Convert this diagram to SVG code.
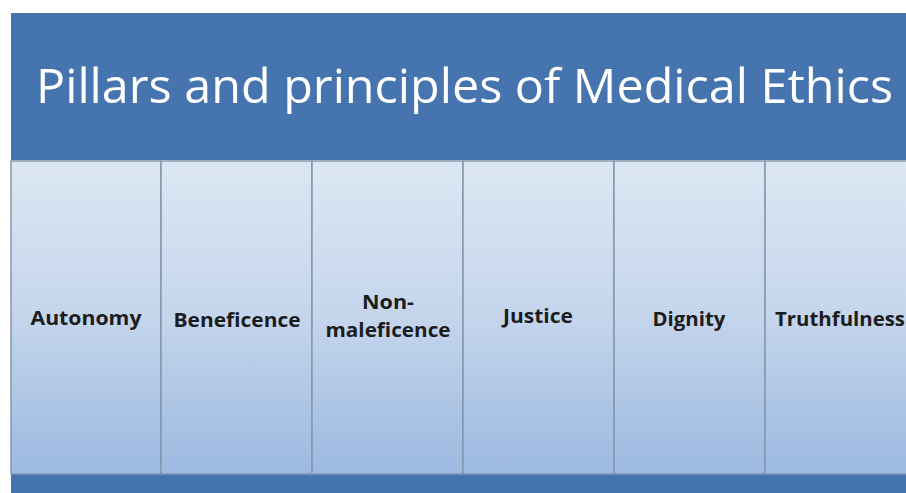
<svg xmlns="http://www.w3.org/2000/svg" width="906" height="493" viewBox="0 0 906 493">
  <defs>
    <linearGradient id="pg" x1="0" y1="0" x2="0" y2="1">
      <stop offset="0" stop-color="#dde7f3"/>
      <stop offset="0.5" stop-color="#c4d5ec"/>
      <stop offset="1" stop-color="#9cb9e0"/>
    </linearGradient>
    <style>
      .pillar { fill: url(#pg); stroke: #8596ad; stroke-width: 1.5; }
      .lbl { font-family: "Open Sans", "Liberation Sans", sans-serif; font-weight: bold; font-size: 19px; fill: #1c1c1c; text-anchor: middle; }
      .title { font-family: "Open Sans", "Liberation Sans", sans-serif; font-size: 48px; fill: #ffffff; }
    </style>
  </defs>
  <rect x="0" y="0" width="906" height="493" fill="#ffffff"/>
  <g id="banner">
    <rect x="11" y="13" width="895" height="147" fill="#4674ae"/>
    <text class="title" x="36" y="103" textLength="857" lengthAdjust="spacingAndGlyphs">Pillars and principles of Medical Ethics</text>
  </g>
  <g id="base">
    <rect x="11" y="474" width="895" height="19" fill="#4674ae"/>
  </g>
  <g id="autonomy">
    <rect class="pillar" x="11" y="161" width="150" height="313"/>
    <text class="lbl" x="86" y="325" textLength="111" lengthAdjust="spacingAndGlyphs">Autonomy</text>
  </g>
  <g id="beneficence">
    <rect class="pillar" x="161" y="161" width="151" height="313"/>
    <text class="lbl" x="237" y="327" textLength="127" lengthAdjust="spacingAndGlyphs">Beneficence</text>
  </g>
  <g id="nonmaleficence">
    <rect class="pillar" x="312" y="161" width="151" height="313"/>
    <text class="lbl" x="388" y="309" textLength="52" lengthAdjust="spacingAndGlyphs">Non-</text>
    <text class="lbl" x="388" y="337" textLength="125" lengthAdjust="spacingAndGlyphs">maleficence</text>
  </g>
  <g id="justice">
    <rect class="pillar" x="463" y="161" width="151" height="313"/>
    <text class="lbl" x="538" y="323" textLength="70" lengthAdjust="spacingAndGlyphs">Justice</text>
  </g>
  <g id="dignity">
    <rect class="pillar" x="614" y="161" width="151" height="313"/>
    <text class="lbl" x="689" y="326" textLength="73" lengthAdjust="spacingAndGlyphs">Dignity</text>
  </g>
  <g id="truthfulness">
    <rect class="pillar" x="765" y="161" width="145" height="313"/>
    <text class="lbl" x="840" y="326" textLength="130" lengthAdjust="spacingAndGlyphs">Truthfulness</text>
  </g>
  <g id="connectors"></g>
</svg>
